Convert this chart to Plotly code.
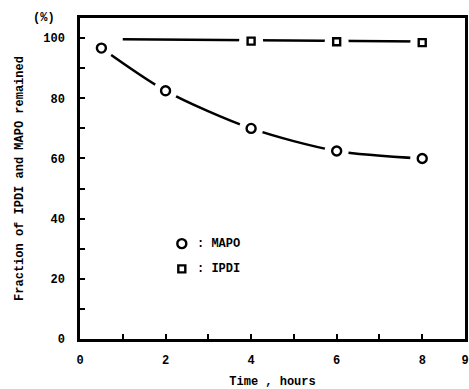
import plotly.graph_objects as go

mapo_t = [0.5, 2, 4, 6, 8]
mapo_y = [96.7, 82.5, 70, 62.5, 60]
ipdi_t = [4, 6, 8]
ipdi_y = [99, 98.8, 98.5]
ipdi_fit_t = [1.0, 8.0]
ipdi_fit_y = [99.6, 98.9]
x_ticks = [0, 2, 4, 6, 8, 9]
y_ticks = [0, 20, 40, 60, 80, 100]

FONT = "Liberation Mono"
fig = go.Figure()

fig.add_trace(go.Scatter(x=mapo_t, y=mapo_y, mode="lines", line=dict(color="black", width=2.5, shape="spline", smoothing=0.8), hoverinfo="skip"))
fig.add_trace(go.Scatter(x=ipdi_fit_t, y=ipdi_fit_y, mode="lines", line=dict(color="black", width=2.5), hoverinfo="skip"))
fig.add_trace(go.Scatter(x=mapo_t + ipdi_t, y=mapo_y + ipdi_y, mode="markers", marker=dict(symbol="circle", size=24, color="white"), hoverinfo="skip"))
fig.add_trace(go.Scatter(x=mapo_t, y=mapo_y, mode="markers", name="MAPO",
                         marker=dict(symbol="circle-open", size=9, color="black", line=dict(width=2.4))))
fig.add_trace(go.Scatter(x=ipdi_t, y=ipdi_y, mode="markers", name="IPDI",
                         marker=dict(symbol="square-open", size=7, color="black", line=dict(width=2.4))))
fig.add_trace(go.Scatter(x=[2.38], y=[31.7], mode="markers", marker=dict(symbol="circle-open", size=9, color="black", line=dict(width=2.4)), hoverinfo="skip"))
fig.add_trace(go.Scatter(x=[2.38], y=[23.3], mode="markers", marker=dict(symbol="square-open", size=7, color="black", line=dict(width=2.4)), hoverinfo="skip"))
fig.add_annotation(x=2.68, y=31.7, text="<b>: MAPO</b>", showarrow=False, xanchor="left", font=dict(family=FONT, size=12, color="black"))
fig.add_annotation(x=2.68, y=23.3, text="<b>: IPDI</b>", showarrow=False, xanchor="left", font=dict(family=FONT, size=12, color="black"))

fig.add_annotation(xref="paper", yref="paper", x=-0.06, y=1.0, text="<b>(%)</b>", showarrow=False, xanchor="right", yanchor="middle", font=dict(family=FONT, size=12, color="black"))

axis_common = dict(showline=True, linecolor="black", linewidth=2.5, mirror=True, showgrid=False, zeroline=False,
                   ticks="inside", tickcolor="black", tickwidth=2, ticklen=5, automargin=False,
                   tickfont=dict(family=FONT, size=12, color="black"))
fig.update_xaxes(range=[0, 9], tickmode="array", tickvals=list(range(0, 10)),
                 ticktext=[f"<b>{v}</b>" if v in x_ticks else "" for v in range(0, 10)],
                 ticklabelstandoff=8,
                 title=dict(text="<b>Time , hours</b>", font=dict(family=FONT, size=12, color="black"), standoff=10),
                 **axis_common)
fig.update_yaxes(range=[0, 106.7], tickmode="array", tickvals=list(range(0, 110, 10)),
                 ticktext=[f"<b>{v}</b>" if v in y_ticks else "" for v in range(0, 110, 10)],
                 ticklabelstandoff=10,
                 title=dict(text="<b>Fraction of IPDI and MAPO remained</b>", font=dict(family=FONT, size=12, color="black"), standoff=18),
                 **axis_common)

fig.update_layout(width=469, height=389, showlegend=False, plot_bgcolor="white", paper_bgcolor="white",
                  margin=dict(l=80, r=4, t=18, b=50))
fig.write_html("out.html")
